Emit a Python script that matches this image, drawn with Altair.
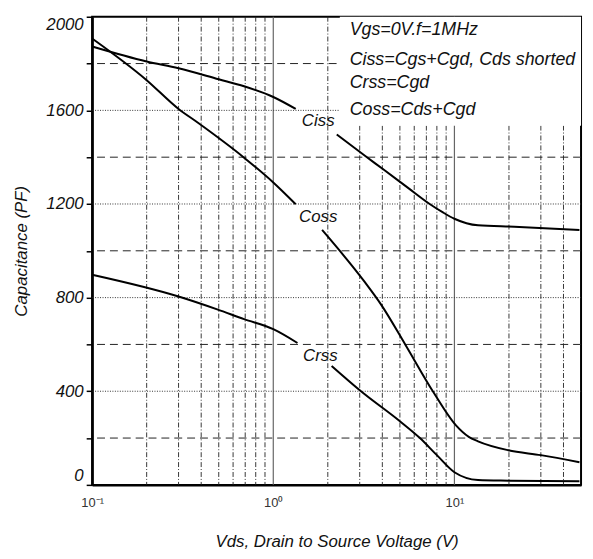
import altair as alt
import pandas as pd

# ---- data ----
ciss_a_x = [0.1, 0.2, 0.3, 0.5, 0.69, 1.0, 1.33]
ciss_a_y = [1873, 1809, 1780, 1733, 1703, 1657, 1606]
ciss_b_x = [2.24, 3.18, 4.08, 5.5, 7.3, 8.6, 10, 13.5, 21.4, 49]
ciss_b_y = [1497, 1408, 1346, 1271, 1200, 1165, 1137, 1109, 1103, 1089]

coss_a_x = [0.1, 0.2, 0.3, 0.384, 0.69, 1.0, 1.33]
coss_a_y = [1907, 1729, 1606, 1547, 1398, 1292, 1199]
coss_b_x = [1.86, 3.18, 3.93, 5.35, 7.6, 10.2, 12, 13.5, 19.8, 30, 49]
coss_b_y = [1089, 869, 771, 600, 400, 254, 205, 186, 148, 127, 97]

crss_a_x = [0.1, 0.3, 0.49, 0.69, 1.0, 1.36]
crss_a_y = [898, 805, 750, 708, 665, 606]
crss_b_x = [2.1, 3.05, 5.0, 6.45, 8.0, 10, 13.5, 20, 49]
crss_b_y = [508, 400, 272, 200, 127, 54, 21, 18, 15]

curve_labels = ["Ciss", "Coss", "Crss"]
curve_label_x = [1.77, 1.77, 1.82]
curve_label_y = [1555, 1144, 551]

note_lines = ["Vgs=0V.f=1MHz", "Ciss=Cgs+Cgd, Cds shorted", "Crss=Cgd", "Coss=Cds+Cgd"]
note_x = [2.64, 2.64, 2.64, 2.64]
note_y = [1941, 1814, 1716, 1602]

minor_x = [0.2, 0.3, 0.4, 0.5, 0.6, 0.7, 0.8, 0.9,
           2, 3, 4, 5, 6, 7, 8, 9, 20, 30, 40]
decade_x = [1, 10]
dashed_y = [200, 600, 1000, 1400, 1800]
dotted_y = [400, 800, 1200, 1600]

x_ticks = [0.1, 1, 10]
y_ticks = list(range(0, 2001, 200))

box_x = [2.33]
box_x2 = [50]
box_y = [1534]
box_y2 = [2000]

# ---- tables ----
rows = []
for name, seg, xs, ys in [
    ("Ciss", "Ciss_a", ciss_a_x, ciss_a_y), ("Ciss", "Ciss_b", ciss_b_x, ciss_b_y),
    ("Coss", "Coss_a", coss_a_x, coss_a_y), ("Coss", "Coss_b", coss_b_x, coss_b_y),
    ("Crss", "Crss_a", crss_a_x, crss_a_y), ("Crss", "Crss_b", crss_b_x, crss_b_y),
]:
    for i, (xv, yv) in enumerate(zip(xs, ys)):
        rows.append({"series": name, "seg": seg, "order": i, "vds": xv, "cap": yv})
curves = pd.DataFrame(rows)

labels_df = pd.DataFrame({"t": curve_labels, "vds": curve_label_x, "cap": curve_label_y})
notes_df = pd.DataFrame({"t": note_lines, "vds": note_x, "cap": note_y})
minor_df = pd.DataFrame({"vds": minor_x})
decade_df = pd.DataFrame({"vds": decade_x})
dashed_df = pd.DataFrame({"cap": dashed_y})
dotted_df = pd.DataFrame({"cap": dotted_y})
box_df = pd.DataFrame({"vds": box_x, "vds2": box_x2, "cap": box_y, "cap2": box_y2})

FONT = "Liberation Sans"
xscale = alt.Scale(type="log", domain=[0.1, 50], nice=False)
yscale = alt.Scale(domain=[0, 2000], nice=False)

x_axis = alt.Axis(
    values=x_ticks,
    labelExpr="datum.value < 0.5 ? '10⁻¹' : (datum.value < 5 ? '10⁰' : '10¹')",
    title="Vds, Drain to Source Voltage (V)",
    grid=False, ticks=False, domainColor="black", domainWidth=2.5,
    labelFont=FONT, labelFontSize=13, labelColor="#333", labelPadding=12,
    titleFont=FONT, titleFontSize=17, titleFontStyle="italic", titleFontWeight="normal",
    titleColor="#111", titlePadding=24, labelFlush=False,
)
y_axis = alt.Axis(
    values=y_ticks,
    labelExpr="datum.value % 400 == 0 ? format(datum.value, 'd') : ''",
    title="Capacitance (PF)",
    grid=False, tickColor="black", tickSize=6, tickWidth=1.5,
    domainColor="black", domainWidth=2.5,
    labelFont=FONT, labelFontSize=17, labelFontStyle="italic", labelColor="#111",
    labelPadding=3, labelFlush=True,
    titleFont=FONT, titleFontSize=17, titleFontStyle="italic", titleFontWeight="normal",
    titleColor="#111", titlePadding=15,
)

X = lambda f="vds": alt.X(f"{f}:Q", scale=xscale, axis=x_axis)
Y = lambda f="cap": alt.Y(f"{f}:Q", scale=yscale, axis=y_axis)

minor_rules = alt.Chart(minor_df).mark_rule(
    color="#222", strokeWidth=0.9, strokeDash=[5, 2, 1, 2]
).encode(x=X())

decade_rules = alt.Chart(decade_df).mark_rule(
    color="#666", strokeWidth=1.2
).encode(x=X())

dashed_rules = alt.Chart(dashed_df).mark_rule(
    color="#222", strokeWidth=1, strokeDash=[8, 5]
).encode(y=Y())

dotted_rules = alt.Chart(dotted_df).mark_rule(
    color="#333", strokeWidth=1, strokeDash=[1, 1.5]
).encode(y=Y())

box = alt.Chart(box_df).mark_rect(color="white").encode(
    x=X(), x2="vds2:Q", y=Y(), y2="cap2:Q",
)

lines = alt.Chart(curves).mark_line(
    color="black", strokeWidth=2, interpolate="monotone"
).encode(
    x=X(), y=Y(),
    detail="seg:N",
    order="order:Q",
)

curve_text = alt.Chart(labels_df).mark_text(
    font=FONT, fontSize=17, fontStyle="italic", color="#111",
    align="center", baseline="middle",
).encode(x=X(), y=Y(), text="t:N")

note_text = alt.Chart(notes_df).mark_text(
    font=FONT, fontSize=18, fontStyle="italic", color="#111",
    align="left", baseline="middle",
).encode(x=X(), y=Y(), text="t:N")

chart = alt.layer(
    minor_rules, decade_rules, dashed_rules, dotted_rules, box,
    lines, curve_text, note_text,
).properties(
    width=583, height=544,
    autosize=alt.AutoSizeParams(type="fit", contains="padding"),
    padding={"left": 5, "top": 5, "right": 1, "bottom": 0},
).configure_view(
    stroke="black", strokeWidth=2
)

chart.save("out.html", embed_options={"renderer": "svg", "actions": False})
